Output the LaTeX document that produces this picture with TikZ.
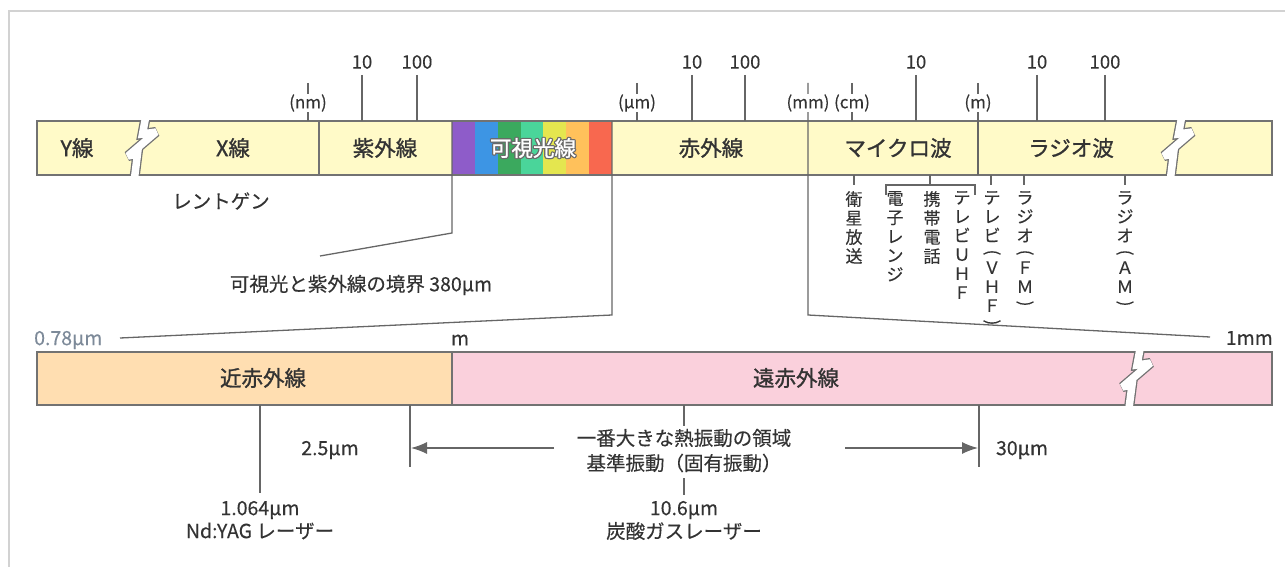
\documentclass[tikz,border=0pt]{standalone}
\usepackage{fontspec}
\usepackage{graphicx}
\setmainfont{Noto Sans CJK JP}
\newfontfamily\barfont[FakeBold=1.2]{Noto Sans CJK JP}
\newfontfamily\medfont[FakeBold=0.3]{Noto Sans CJK JP}
\usetikzlibrary{arrows.meta}
\definecolor{txt}{HTML}{333333}
\definecolor{lnc}{HTML}{666666}
\definecolor{barline}{HTML}{727272}
\definecolor{frame}{HTML}{D2D2D2}
\definecolor{barfill}{HTML}{FFFAC8}
\definecolor{nearir}{HTML}{FFDEB1}
\definecolor{farir}{HTML}{FAD0DC}
\definecolor{sA}{HTML}{8E5CC9}
\definecolor{sB}{HTML}{3D95E4}
\definecolor{sC}{HTML}{3BA95E}
\definecolor{sD}{HTML}{4AD59A}
\definecolor{sE}{HTML}{E4E64F}
\definecolor{sF}{HTML}{FFC15B}
\definecolor{sG}{HTML}{F8684F}
\definecolor{visout}{HTML}{6A6A6A}
\definecolor{bluegray}{HTML}{7D8A99}
\newcommand{\vpo}{\rotatebox[origin=c]{-90}{(}}
\newcommand{\vpc}{\rotatebox[origin=c]{-90}{)}}
\newcommand{\mybreak}[3]{%
  \begin{scope}[shift={(#1,#2)}]
    \clip (100,-0.8) rectangle (190,#3+0.8);
    \draw[brkline] (145.5,-3) -- (142.5,13) -- (156,11) -- (128,35) -- (137.5,33) -- (134.5,#3+3);
  \end{scope}}
\begin{document}
\begin{tikzpicture}[x=1pt,y=-1pt,
  lbl/.style={text=txt, inner sep=0pt, font=\medfont\fontsize{19.5}{22}\selectfont},
  barlbl/.style={text=txt, inner sep=0pt, font=\barfont\fontsize{21.5}{24}\selectfont},
  unit/.style={text=txt, inner sep=0.5pt, fill=white, font=\medfont\fontsize{17}{18}\selectfont},
  num/.style={text=txt, inner sep=0pt, font=\medfont\fontsize{18.5}{20}\selectfont},
  vtext/.style={text=txt, inner sep=0pt, anchor=north, align=center, font=\medfont\fontsize{17}{19}\selectfont},
  ln/.style={draw=lnc, line width=1.3pt},
  barout/.style={draw=barline, line width=1.4pt},
  brkline/.style={draw=barline, line width=1.3pt, double=white, double distance=7.5pt, line join=miter, miter limit=2},
  arr/.style={ln, -{Latex[length=16pt,width=12pt]}},
]
\useasboundingbox (0,0) rectangle (1285,567);
% frame
\draw[draw=frame, line width=2.5pt] (9,567) -- (9,11) -- (1285,11);

% ---------- top bar ----------
\fill[barfill] (37,121) rectangle (1272,175);
\foreach \c [count=\i from 0] in {sA,sB,sC,sD,sE,sF,sG}
  \fill[\c] ({452+\i*22.857},121) rectangle ({452+(\i+1)*22.857},175);
\draw[barout] (37,121) rectangle (1272,175);
\draw[barout] (319,121) -- (319,175);

% ---------- bottom bar ----------
\fill[nearir] (37,352) rectangle (452,405);
\fill[farir] (452,352) rectangle (1272,405);
\draw[barout] (37,352) rectangle (1272,405);
\draw[barout] (452,352) -- (452,405);

% breaks
\mybreak{0}{121}{54}
\mybreak{1036}{121}{54}
\mybreak{994.5}{352}{53}

% ---------- coordinates ----------
\coordinate (v452t) at (452,121);
\coordinate (v452b) at (452,233);
\coordinate (v452e) at (320,256);
\coordinate (v612t) at (612,121);
\coordinate (v612b) at (612,315);
\coordinate (v612e) at (120,338);
\coordinate (v808t) at (808,83);
\coordinate (v808b) at (808,315);
\coordinate (v808e) at (1210,337);
\coordinate (v978t) at (978,83);
\coordinate (v978b) at (978,175);

\draw[ln] (v452t) -- (v452b) -- (v452e);
\draw[ln] (v612t) -- (v612b) -- (v612e);
\draw[ln] (v808t) -- (v808b) -- (v808e);
\draw[ln] (v978t) -- (v978b);

% number ticks above bar
\foreach \x/\t [count=\k] in {362/10,417/100,692/10,745/100,916/10,1037/10,1105/100}{
  \coordinate (nt\k) at (\x,75);
  \coordinate (nb\k) at (\x,121);
  \draw[ln] (nt\k) -- (nb\k);
  \node[num] (nl\k) at (\x,62) {\t};
}
% unit ticks
\foreach \x [count=\k] in {308,637,852}{
  \coordinate (ut\k) at (\x,83);
  \coordinate (ub\k) at (\x,121);
  \draw[ln] (ut\k) -- (ub\k);
}
\node[unit] (unm) at (308,103) {(nm)};
\node[unit] (uum) at (637,103) {(μm)};
\node[unit] (umm) at (808,103) {(mm)};
\node[unit] (ucm) at (852,103) {(cm)};
\node[unit] (um) at (978,103) {(m)};

% bar labels
\node[barlbl] (gam) at (77,148) {Y線};
\node[barlbl] (xr) at (233,148) {X線};
\node[barlbl] (uv) at (385,148) {紫外線};
\foreach \dx/\dy in {-1.2/0,1.2/0,0/-1.2,0/1.2,-0.9/-0.9,0.9/0.9,-0.9/0.9,0.9/-0.9}
  \node[barlbl, text=visout] at ({533+\dx},{148+\dy}) {可視光線};
\node[barlbl, text=white] (vis) at (533,148) {可視光線};
\node[barlbl] (ir) at (711,148) {赤外線};
\node[barlbl] (mw) at (898,148) {マイクロ波};
\node[barlbl] (rw) at (1071,148) {ラジオ波};
\node[barlbl] (nir) at (263,378) {近赤外線};
\node[barlbl] (fir) at (796,378) {遠赤外線};

% labels below top bar
\node[lbl] (rg) at (221,201) {レントゲン};
\node[lbl] (bound) at (361,285) {可視光と紫外線の境界 380μm};
\node[lbl, text=bluegray, anchor=west] (l078) at (34,340) {0.78μm};
\node[lbl] (lm) at (460,340) {m};
\node[lbl, anchor=east] (l1mm) at (1273,338) {1mm};

% applications (vertical text)
\coordinate (a1t) at (854,175); \coordinate (a1b) at (854,185);
\draw[ln] (a1t) -- (a1b);
\node[vtext] (sat) at (854,191) {衛\\星\\放\\送};
\coordinate (brL) at (886,195); \coordinate (brLt) at (886,185);
\coordinate (brR) at (975,195); \coordinate (brRt) at (975,185);
\coordinate (a2t) at (930,175); \coordinate (a2b) at (930,185);
\draw[ln] (brL) -- (brLt) -- (brRt) -- (brR);
\draw[ln] (a2t) -- (a2b);
\node[vtext] (mwo) at (895,191) {電\\子\\レ\\ン\\ジ};
\node[vtext] (cell) at (932,191) {携\\帯\\電\\話};
\node[vtext] (uhf) at (962,191) {テ\\レ\\ビ\\Ｕ\\Ｈ\\Ｆ};
\coordinate (a3t) at (991,175); \coordinate (a3b) at (991,185);
\draw[ln] (a3t) -- (a3b);
\node[vtext] (vhf) at (992,191) {テ\\レ\\ビ\\[-3pt]\vpo\\[-3pt]Ｖ\\Ｈ\\Ｆ\\[-3pt]\vpc};
\coordinate (a4t) at (1024,175); \coordinate (a4b) at (1024,185);
\draw[ln] (a4t) -- (a4b);
\node[vtext] (fm) at (1025,191) {ラ\\ジ\\オ\\[-3pt]\vpo\\[-3pt]Ｆ\\Ｍ\\[-3pt]\vpc};
\coordinate (a5t) at (1125,175); \coordinate (a5b) at (1125,185);
\draw[ln] (a5t) -- (a5b);
\node[vtext] (am) at (1125,191) {ラ\\ジ\\オ\\[-3pt]\vpo\\[-3pt]Ａ\\Ｍ\\[-3pt]\vpc};

% ---------- below bottom bar ----------
\coordinate (y1t) at (260,405); \coordinate (y1b) at (260,493);
\draw[ln] (y1t) -- (y1b);
\node[lbl] (yag1) at (260,510) {1.064μm};
\node[lbl] (yag2) at (260,531) {Nd:YAG レーザー};

\coordinate (k25t) at (410,405); \coordinate (k25b) at (410,467);
\draw[ln] (k25t) -- (k25b);
\node[lbl] (l25) at (330,450) {2.5μm};

\coordinate (k30t) at (979,405); \coordinate (k30b) at (979,467);
\draw[ln] (k30t) -- (k30b);
\node[lbl] (l30) at (1022,450) {30μm};

\node[lbl] (th1) at (684,438) {一番大きな熱振動の領域};
\node[lbl] (th2) at (684,463) {基準振動（固有振動）};
\coordinate (c1t) at (684,405); \coordinate (c1b) at (684,426);
\coordinate (c2t) at (684,478); \coordinate (c2b) at (684,495);
\draw[ln] (c1t) -- (c1b);
\draw[ln] (c2t) -- (c2b);
\node[lbl] (co1) at (684,510) {10.6μm};
\node[lbl] (co2) at (684,531) {炭酸ガスレーザー};

\coordinate (arLs) at (554,448); \coordinate (arLe) at (411,448);
\coordinate (arRs) at (845,448); \coordinate (arRe) at (978,448);
\draw[arr] (arLs) -- (arLe);
\draw[arr] (arRs) -- (arRe);
\end{tikzpicture}
\end{document}
